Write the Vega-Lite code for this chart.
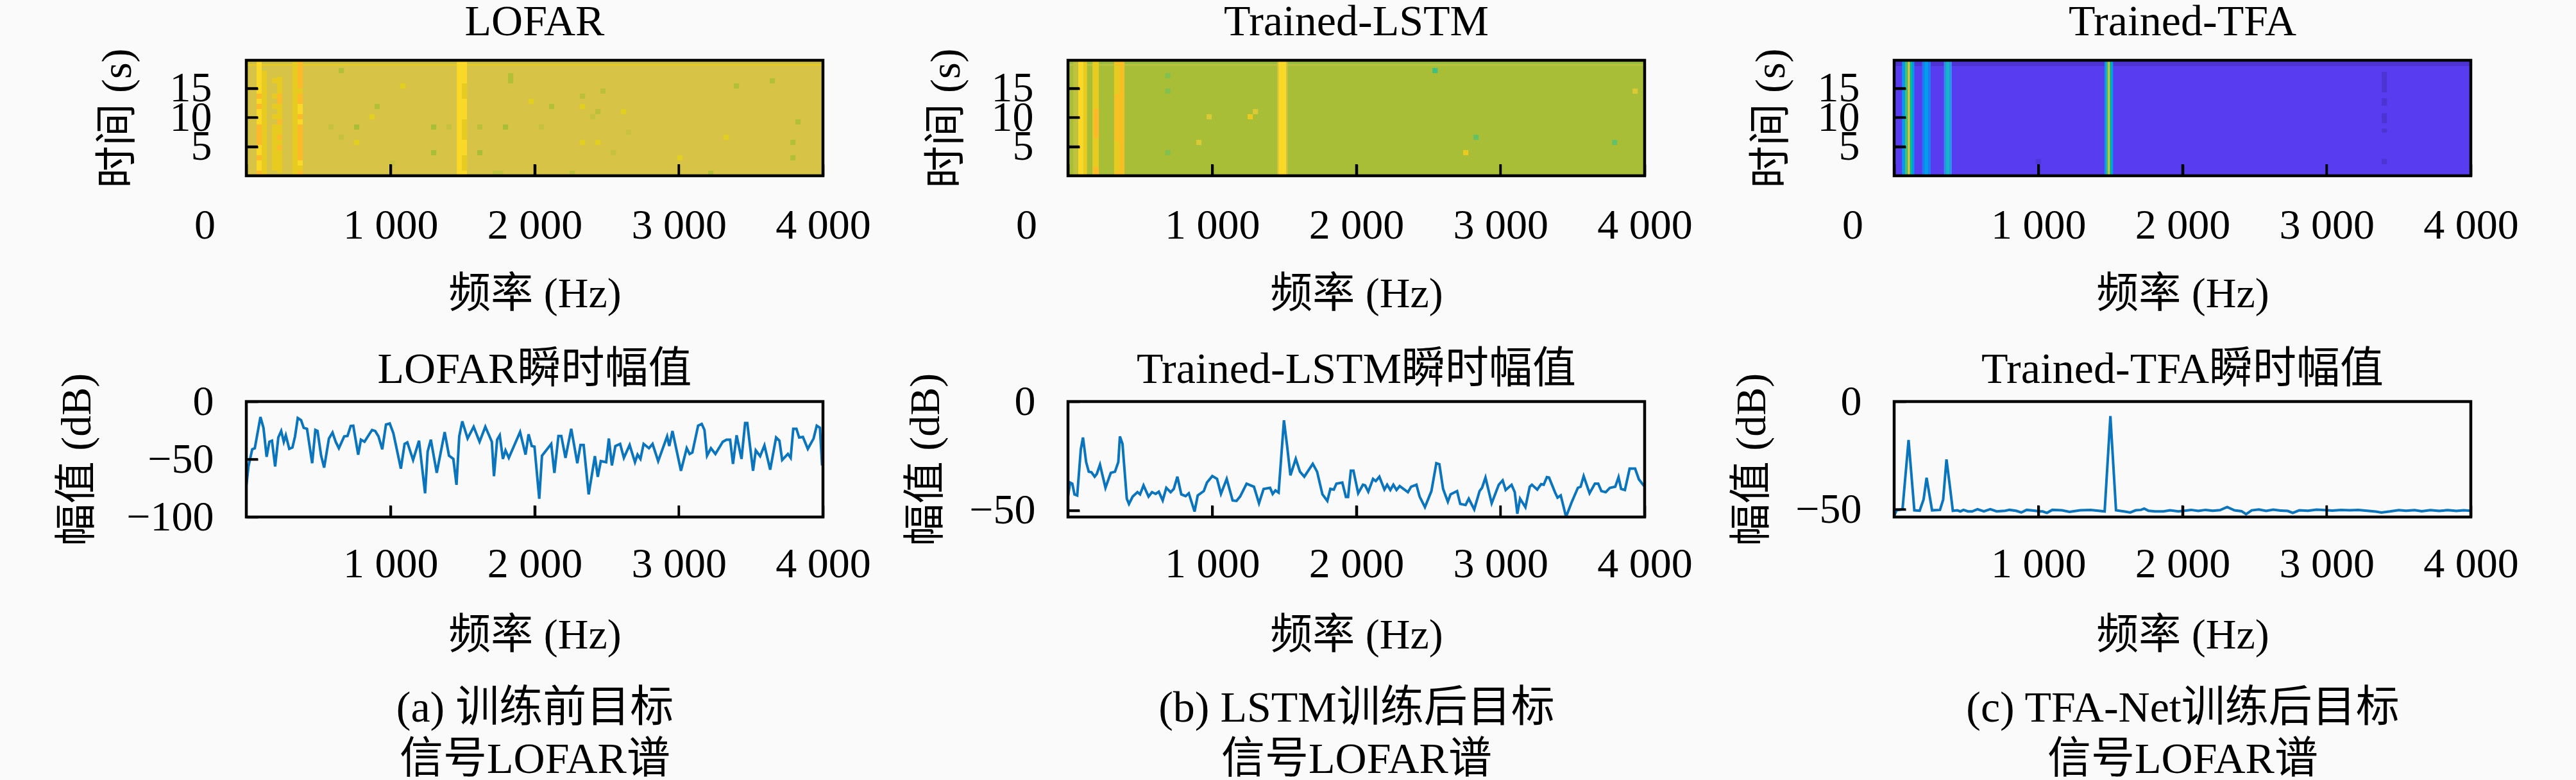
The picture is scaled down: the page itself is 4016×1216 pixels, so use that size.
{
  "$schema": "https://vega.github.io/schema/vega-lite/v6.json",
  "background": "#fafafa",
  "autosize": {"type": "none"},
  "padding": {"left": 384, "top": 94, "right": 3632, "bottom": 1122},
  "config": {
    "view": {"stroke": null},
    "title": {"font": "Liberation Serif, Noto Sans CJK SC", "fontSize": 68, "fontWeight": "normal", "color": "#000000", "baseline": "alphabetic"},
    "axis": {
      "grid": false, "domain": false,
      "labelFont": "Liberation Serif", "labelFontSize": 66, "labelColor": "#000000", "labelOverlap": false, "labelBound": false, "labelFlush": false,
      "titleFont": "Liberation Serif, Noto Sans CJK SC", "titleFontSize": 66, "titleFontWeight": "normal", "titleColor": "#000000",
      "tickColor": "#000000", "tickWidth": 3.5
    }
  },
  "datasets": {
    "cellsA": [
      {"f":0,"f2":4000,"t":0,"t2":19.8,"v":0.8},
      {"f":0,"f2":4000,"t":18.9,"t2":19.15,"v":0.86},
      {"f":0,"f2":4000,"t":19.15,"t2":19.4,"v":0.77},
      {"f":71,"f2":107,"t":0,"t2":19.6,"v":0.97},
      {"f":71,"f2":107,"t":13.2,"t2":14.08,"v":0.9},
      {"f":71,"f2":107,"t":11.44,"t2":12.32,"v":0.9},
      {"f":71,"f2":107,"t":5.28,"t2":8.8,"v":0.9},
      {"f":71,"f2":107,"t":2.64,"t2":3.52,"v":0.9},
      {"f":71,"f2":107,"t":0,"t2":0.88,"v":0.9},
      {"f":107,"f2":142,"t":0,"t2":18,"v":0.85},
      {"f":178,"f2":214,"t":15.84,"t2":16.72,"v":0.85},
      {"f":178,"f2":214,"t":13.2,"t2":14.08,"v":0.85},
      {"f":178,"f2":214,"t":11.44,"t2":12.32,"v":0.85},
      {"f":178,"f2":214,"t":9.68,"t2":10.56,"v":0.85},
      {"f":178,"f2":214,"t":0.88,"t2":8.8,"v":0.85},
      {"f":214,"f2":249,"t":0.5,"t2":17,"v":0.85},
      {"f":214,"f2":249,"t":12.32,"t2":14.08,"v":0.9},
      {"f":214,"f2":249,"t":8.8,"t2":9.68,"v":0.9},
      {"f":214,"f2":249,"t":6.16,"t2":7.04,"v":0.9},
      {"f":214,"f2":249,"t":4.4,"t2":5.28,"v":0.9},
      {"f":320,"f2":356,"t":0,"t2":19.6,"v":0.85},
      {"f":356,"f2":392,"t":0,"t2":19.6,"v":0.9},
      {"f":356,"f2":392,"t":10.56,"t2":12.32,"v":0.97},
      {"f":356,"f2":392,"t":8.8,"t2":9.68,"v":0.97},
      {"f":356,"f2":392,"t":1.76,"t2":2.64,"v":0.97},
      {"f":356,"f2":392,"t":14.08,"t2":14.96,"v":0.85},
      {"f":356,"f2":392,"t":0.88,"t2":1.76,"v":0.85},
      {"f":1460,"f2":1495,"t":0,"t2":19.6,"v":0.97},
      {"f":1495,"f2":1531,"t":0,"t2":19.6,"v":0.97},
      {"f":1495,"f2":1531,"t":13.2,"t2":15.84,"v":0.85},
      {"f":1495,"f2":1531,"t":6.16,"t2":9.68,"v":0.85},
      {"f":1495,"f2":1531,"t":0.88,"t2":3.52,"v":0.85},
      {"f":641,"f2":677,"t":17.6,"t2":18.48,"v":0.72},
      {"f":1816,"f2":1852,"t":15.84,"t2":17.6,"v":0.72},
      {"f":1068,"f2":1104,"t":14.96,"t2":15.84,"v":0.84},
      {"f":3382,"f2":3418,"t":14.96,"t2":15.84,"v":0.72},
      {"f":3631,"f2":3667,"t":15.84,"t2":16.72,"v":0.72},
      {"f":2456,"f2":2492,"t":14.08,"t2":14.96,"v":0.74},
      {"f":2314,"f2":2350,"t":13.2,"t2":14.08,"v":0.74},
      {"f":1958,"f2":1994,"t":12.32,"t2":13.2,"v":0.84},
      {"f":890,"f2":926,"t":11.44,"t2":12.32,"v":0.72},
      {"f":2100,"f2":2136,"t":11.44,"t2":12.32,"v":0.72},
      {"f":2314,"f2":2350,"t":11.44,"t2":12.32,"v":0.84},
      {"f":2421,"f2":2457,"t":10.56,"t2":11.44,"v":0.74},
      {"f":2599,"f2":2635,"t":10.56,"t2":11.44,"v":0.84},
      {"f":854,"f2":890,"t":9.68,"t2":10.56,"v":0.84},
      {"f":2385,"f2":2421,"t":9.68,"t2":10.56,"v":0.76},
      {"f":3809,"f2":3845,"t":8.8,"t2":9.68,"v":0.72},
      {"f":570,"f2":606,"t":7.92,"t2":8.8,"v":0.76},
      {"f":748,"f2":784,"t":7.92,"t2":8.8,"v":0.7},
      {"f":1282,"f2":1318,"t":7.92,"t2":8.8,"v":0.7},
      {"f":1388,"f2":1424,"t":7.92,"t2":8.8,"v":0.76},
      {"f":1602,"f2":1638,"t":7.92,"t2":8.8,"v":0.74},
      {"f":1780,"f2":1816,"t":7.92,"t2":8.8,"v":0.7},
      {"f":2029,"f2":2065,"t":7.92,"t2":8.8,"v":0.76},
      {"f":2634,"f2":2670,"t":7.04,"t2":7.92,"v":0.77},
      {"f":641,"f2":677,"t":6.16,"t2":7.04,"v":0.76},
      {"f":3311,"f2":3347,"t":6.16,"t2":7.04,"v":0.84},
      {"f":748,"f2":784,"t":5.28,"t2":6.16,"v":0.84},
      {"f":2314,"f2":2350,"t":5.28,"t2":6.16,"v":0.84},
      {"f":2421,"f2":2457,"t":5.28,"t2":6.16,"v":0.84},
      {"f":3774,"f2":3810,"t":5.28,"t2":6.16,"v":0.72},
      {"f":1282,"f2":1318,"t":3.52,"t2":4.4,"v":0.7},
      {"f":1602,"f2":1638,"t":3.52,"t2":4.4,"v":0.7},
      {"f":2528,"f2":2564,"t":3.52,"t2":4.4,"v":0.76},
      {"f":997,"f2":1033,"t":1.76,"t2":2.64,"v":0.77},
      {"f":2990,"f2":3026,"t":2.64,"t2":3.52,"v":0.84},
      {"f":3774,"f2":3810,"t":2.64,"t2":3.52,"v":0.72},
      {"f":1709,"f2":1781,"t":0,"t2":0.88,"v":0.75},
      {"f":2243,"f2":2279,"t":0,"t2":0.88,"v":0.74},
      {"f":3204,"f2":3240,"t":0,"t2":0.88,"v":0.72}
    ],
    "cellsB": [
      {"f":0,"f2":4000,"t":0,"t2":19.8,"v":0.7},
      {"f":0,"f2":4000,"t":18.9,"t2":19.15,"v":0.75},
      {"f":0,"f2":4000,"t":19.15,"t2":19.4,"v":0.67},
      {"f":36,"f2":71,"t":0,"t2":19.6,"v":0.75},
      {"f":71,"f2":107,"t":0,"t2":19.6,"v":0.97},
      {"f":107,"f2":132,"t":0,"t2":19.6,"v":0.85},
      {"f":170,"f2":214,"t":0,"t2":19.6,"v":0.85},
      {"f":178,"f2":214,"t":6.5,"t2":11.5,"v":0.9},
      {"f":178,"f2":214,"t":0,"t2":1.5,"v":0.9},
      {"f":320,"f2":392,"t":0,"t2":19.6,"v":0.88},
      {"f":320,"f2":356,"t":0.8,"t2":6,"v":0.85},
      {"f":320,"f2":356,"t":14,"t2":19,"v":0.85},
      {"f":1450,"f2":1460,"t":0,"t2":19.6,"v":0.78},
      {"f":1460,"f2":1515,"t":0,"t2":19.6,"v":0.97},
      {"f":1515,"f2":1525,"t":0,"t2":19.6,"v":0.78},
      {"f":676,"f2":712,"t":16.72,"t2":17.6,"v":0.64},
      {"f":676,"f2":712,"t":14.08,"t2":14.96,"v":0.64},
      {"f":676,"f2":712,"t":3.52,"t2":4.4,"v":0.64},
      {"f":2528,"f2":2564,"t":17.6,"t2":18.48,"v":0.55},
      {"f":3916,"f2":3952,"t":14.08,"t2":14.96,"v":0.82},
      {"f":961,"f2":997,"t":9.68,"t2":10.56,"v":0.82},
      {"f":1246,"f2":1282,"t":9.68,"t2":10.56,"v":0.86},
      {"f":1282,"f2":1318,"t":10.56,"t2":11.44,"v":0.82},
      {"f":890,"f2":926,"t":5.28,"t2":6.16,"v":0.82},
      {"f":2812,"f2":2848,"t":6.16,"t2":7.04,"v":0.6},
      {"f":3774,"f2":3810,"t":5.28,"t2":6.16,"v":0.6},
      {"f":2741,"f2":2777,"t":3.52,"t2":4.4,"v":0.86}
    ],
    "cellsC": [
      {"f":0,"f2":4000,"t":0,"t2":19.8,"v":0.1},
      {"f":0,"f2":4000,"t":18.8,"t2":19.5,"v":0.06},
      {"f":55,"f2":75,"t":0,"t2":19.6,"v":0.3},
      {"f":75,"f2":95,"t":0,"t2":19.6,"v":0.55},
      {"f":95,"f2":110,"t":0,"t2":19.6,"v":0.84},
      {"f":110,"f2":125,"t":0,"t2":19.6,"v":0.5},
      {"f":125,"f2":140,"t":0,"t2":19.6,"v":0.28},
      {"f":194,"f2":210,"t":0,"t2":19.6,"v":0.2},
      {"f":210,"f2":238,"t":0,"t2":19.6,"v":0.3},
      {"f":238,"f2":254,"t":0,"t2":19.6,"v":0.2},
      {"f":345,"f2":358,"t":0,"t2":19.6,"v":0.25},
      {"f":358,"f2":386,"t":0,"t2":19.6,"v":0.4},
      {"f":386,"f2":400,"t":0,"t2":19.6,"v":0.25},
      {"f":1459,"f2":1472,"t":0,"t2":19.6,"v":0.3},
      {"f":1472,"f2":1484,"t":0,"t2":19.6,"v":0.55},
      {"f":1484,"f2":1496,"t":0,"t2":19.6,"v":0.84},
      {"f":1496,"f2":1508,"t":0,"t2":19.6,"v":0.5},
      {"f":1508,"f2":1519,"t":0,"t2":19.6,"v":0.28},
      {"f":3382,"f2":3418,"t":14.3,"t2":17.8,"v":0.06},
      {"f":3382,"f2":3418,"t":12,"t2":13.3,"v":0.06},
      {"f":3382,"f2":3418,"t":9,"t2":10.7,"v":0.06},
      {"f":3382,"f2":3418,"t":7.4,"t2":8.1,"v":0.06},
      {"f":3382,"f2":3418,"t":2,"t2":2.9,"v":0.06},
      {"f":982,"f2":1018,"t":2,"t2":2.9,"v":0.07}
    ],
    "lineA": [
      {"f":0,"db":-73},{"f":15,"db":-56.2},{"f":41,"db":-41.3},{"f":59,"db":-40.4},{"f":98,"db":-13.4},{"f":119,"db":-22.7},{"f":141,"db":-47.9},{"f":160,"db":-34.8},{"f":178,"db":-33.9},{"f":200,"db":-56.2},{"f":222,"db":-31.1},{"f":242,"db":-25.5},{"f":260,"db":-34.8},{"f":274,"db":-29.2},{"f":298,"db":-41},{"f":320,"db":-39.8},{"f":338,"db":-30.2},{"f":357,"db":-14.3},{"f":380,"db":-16.2},{"f":398,"db":-22.7},{"f":421,"db":-23.6},{"f":457,"db":-53.4},{"f":479,"db":-24.6},{"f":494,"db":-25.5},{"f":519,"db":-46.9},{"f":540,"db":-57.2},{"f":573,"db":-32},{"f":598,"db":-26.8},{"f":620,"db":-34.8},{"f":642,"db":-40.4},{"f":679,"db":-30.2},{"f":702,"db":-29.8},{"f":724,"db":-21.2},{"f":742,"db":-20.9},{"f":776,"db":-46},{"f":795,"db":-33},{"f":820,"db":-34.8},{"f":872,"db":-24.6},{"f":894,"db":-25.5},{"f":917,"db":-30.2},{"f":943,"db":-41.3},{"f":969,"db":-19.9},{"f":995,"db":-19},{"f":1020,"db":-27.4},{"f":1050,"db":-45},{"f":1072,"db":-58.1},{"f":1098,"db":-36.7},{"f":1117,"db":-35.4},{"f":1157,"db":-50.6},{"f":1198,"db":-33.9},{"f":1240,"db":-79.5},{"f":1258,"db":-43.2},{"f":1280,"db":-33},{"f":1321,"db":-61.8},{"f":1376,"db":-26.4},{"f":1406,"db":-46.9},{"f":1436,"db":-49.7},{"f":1458,"db":-72.1},{"f":1477,"db":-30.2},{"f":1498,"db":-17.1},{"f":1535,"db":-32},{"f":1577,"db":-21.8},{"f":1618,"db":-34.8},{"f":1658,"db":-21.8},{"f":1703,"db":-34.8},{"f":1718,"db":-64.6},{"f":1740,"db":-33},{"f":1758,"db":-29.2},{"f":1780,"db":-49.7},{"f":1798,"db":-42.3},{"f":1821,"db":-48.8},{"f":1899,"db":-26.4},{"f":1937,"db":-46},{"f":1958,"db":-28.3},{"f":1980,"db":-38.5},{"f":1999,"db":-39.1},{"f":2032,"db":-84.2},{"f":2051,"db":-46.9},{"f":2115,"db":-36.7},{"f":2137,"db":-61.8},{"f":2165,"db":-29.8},{"f":2185,"db":-29.8},{"f":2214,"db":-48.8},{"f":2254,"db":-23.6},{"f":2296,"db":-53.4},{"f":2318,"db":-37.6},{"f":2340,"db":-37.6},{"f":2375,"db":-80.4},{"f":2418,"db":-47.3},{"f":2438,"db":-65.2},{"f":2459,"db":-51.6},{"f":2496,"db":-52.5},{"f":2515,"db":-32},{"f":2536,"db":-55.3},{"f":2560,"db":-38.5},{"f":2593,"db":-36.7},{"f":2619,"db":-48.8},{"f":2659,"db":-37.6},{"f":2696,"db":-52.5},{"f":2714,"db":-46},{"f":2734,"db":-49.7},{"f":2756,"db":-36.7},{"f":2793,"db":-40.4},{"f":2818,"db":-36.7},{"f":2857,"db":-51.6},{"f":2919,"db":-30.2},{"f":2934,"db":-38.5},{"f":2956,"db":-25.5},{"f":3015,"db":-60},{"f":3055,"db":-40.4},{"f":3075,"db":-45.4},{"f":3094,"db":-44.1},{"f":3134,"db":-20.9},{"f":3159,"db":-19.4},{"f":3178,"db":-24.6},{"f":3196,"db":-46.9},{"f":3223,"db":-40.4},{"f":3254,"db":-45.4},{"f":3305,"db":-34.8},{"f":3331,"db":-33},{"f":3356,"db":-33},{"f":3376,"db":-54},{"f":3401,"db":-29.2},{"f":3435,"db":-49.7},{"f":3460,"db":-18.6},{"f":3475,"db":-18.6},{"f":3515,"db":-60},{"f":3534,"db":-42.3},{"f":3564,"db":-47.3},{"f":3594,"db":-38},{"f":3634,"db":-59},{"f":3675,"db":-31.1},{"f":3698,"db":-33.9},{"f":3717,"db":-50.6},{"f":3757,"db":-45.4},{"f":3776,"db":-48.8},{"f":3794,"db":-23.6},{"f":3816,"db":-23.6},{"f":3835,"db":-31.1},{"f":3861,"db":-30.7},{"f":3895,"db":-41},{"f":3935,"db":-32},{"f":3957,"db":-20.9},{"f":3979,"db":-22.7},{"f":3994,"db":-55.3}
    ],
    "lineB": [
      {"f":0,"db":-43.6},{"f":15,"db":-37.2},{"f":30,"db":-37.7},{"f":45,"db":-42.6},{"f":64,"db":-43.1},{"f":89,"db":-21.9},{"f":104,"db":-16.5},{"f":126,"db":-27.8},{"f":144,"db":-32.2},{"f":163,"db":-32.5},{"f":185,"db":-34.5},{"f":200,"db":-33.2},{"f":222,"db":-29},{"f":260,"db":-39.6},{"f":297,"db":-32.7},{"f":326,"db":-32.2},{"f":349,"db":-27.8},{"f":360,"db":-16},{"f":378,"db":-19.4},{"f":408,"db":-44.6},{"f":423,"db":-47},{"f":449,"db":-43.6},{"f":482,"db":-41.6},{"f":500,"db":-42.6},{"f":524,"db":-38.5},{"f":559,"db":-43.6},{"f":583,"db":-41.6},{"f":608,"db":-42.4},{"f":630,"db":-41.4},{"f":657,"db":-45.4},{"f":682,"db":-39.6},{"f":712,"db":-41.6},{"f":734,"db":-40.1},{"f":759,"db":-34.5},{"f":786,"db":-42.6},{"f":816,"db":-43.4},{"f":838,"db":-42.1},{"f":878,"db":-50.5},{"f":900,"db":-43.1},{"f":942,"db":-41.1},{"f":964,"db":-37.2},{"f":1001,"db":-34.2},{"f":1034,"db":-35.5},{"f":1061,"db":-42.4},{"f":1101,"db":-35.5},{"f":1142,"db":-45.4},{"f":1169,"db":-45.6},{"f":1194,"db":-43.6},{"f":1239,"db":-37.7},{"f":1290,"db":-39.1},{"f":1325,"db":-46.7},{"f":1357,"db":-40.1},{"f":1402,"db":-39.6},{"f":1420,"db":-42.4},{"f":1439,"db":-40.8},{"f":1461,"db":-41.8},{"f":1498,"db":-8.6},{"f":1520,"db":-20.4},{"f":1543,"db":-33.9},{"f":1580,"db":-26.3},{"f":1609,"db":-32.2},{"f":1639,"db":-34.5},{"f":1698,"db":-28.6},{"f":1728,"db":-32.2},{"f":1765,"db":-42.6},{"f":1799,"db":-45.6},{"f":1820,"db":-40.1},{"f":1844,"db":-40.4},{"f":1862,"db":-37.7},{"f":1903,"db":-37.2},{"f":1928,"db":-43.8},{"f":1943,"db":-43.8},{"f":1962,"db":-31.7},{"f":1980,"db":-31.7},{"f":2013,"db":-42.1},{"f":2046,"db":-38.2},{"f":2061,"db":-38.5},{"f":2083,"db":-41.4},{"f":2116,"db":-35.5},{"f":2135,"db":-36.5},{"f":2160,"db":-34.5},{"f":2195,"db":-40.4},{"f":2214,"db":-38.2},{"f":2236,"db":-40.6},{"f":2257,"db":-38.2},{"f":2279,"db":-40.6},{"f":2301,"db":-38.8},{"f":2358,"db":-41.6},{"f":2380,"db":-39.1},{"f":2417,"db":-38.2},{"f":2439,"db":-43.6},{"f":2476,"db":-48.5},{"f":2521,"db":-41.1},{"f":2555,"db":-28.3},{"f":2576,"db":-28.8},{"f":2602,"db":-40.1},{"f":2635,"db":-46},{"f":2654,"db":-42.6},{"f":2699,"db":-41.1},{"f":2721,"db":-47},{"f":2758,"db":-47.5},{"f":2780,"db":-44.6},{"f":2818,"db":-49.5},{"f":2855,"db":-41.1},{"f":2872,"db":-39.6},{"f":2896,"db":-34.9},{"f":2939,"db":-46.7},{"f":2988,"db":-38.2},{"f":3015,"db":-36.2},{"f":3036,"db":-40.6},{"f":3077,"db":-38.2},{"f":3099,"db":-41.6},{"f":3117,"db":-51.5},{"f":3136,"db":-44.6},{"f":3173,"db":-48.5},{"f":3203,"db":-39.1},{"f":3218,"db":-38.2},{"f":3255,"db":-40.4},{"f":3282,"db":-37.9},{"f":3300,"db":-38.2},{"f":3322,"db":-34.7},{"f":3337,"db":-34.9},{"f":3381,"db":-42.1},{"f":3396,"db":-44.1},{"f":3418,"db":-43.1},{"f":3455,"db":-52.9},{"f":3492,"db":-46.5},{"f":3537,"db":-39.6},{"f":3556,"db":-39.1},{"f":3577,"db":-34.2},{"f":3618,"db":-42.1},{"f":3655,"db":-37.7},{"f":3678,"db":-37.7},{"f":3700,"db":-41.1},{"f":3730,"db":-41.6},{"f":3759,"db":-39.6},{"f":3796,"db":-39.1},{"f":3819,"db":-34.7},{"f":3837,"db":-40.1},{"f":3863,"db":-40.6},{"f":3896,"db":-30.8},{"f":3934,"db":-30.8},{"f":3960,"db":-35.7},{"f":3989,"db":-38.2},{"f":4000,"db":-39}
    ],
    "lineC": [
      {"f":0,"db":-53},{"f":17,"db":-50.4},{"f":58,"db":-49.9},{"f":100,"db":-17.8},{"f":140,"db":-50.4},{"f":177,"db":-50.6},{"f":204,"db":-45.4},{"f":225,"db":-35.3},{"f":263,"db":-50.4},{"f":318,"db":-50.2},{"f":340,"db":-45.4},{"f":363,"db":-26.8},{"f":385,"db":-38.4},{"f":407,"db":-50.6},{"f":437,"db":-50.4},{"f":459,"db":-50.9},{"f":481,"db":-50.2},{"f":511,"db":-50.9},{"f":541,"db":-50.9},{"f":578,"db":-49.9},{"f":622,"db":-50.9},{"f":667,"db":-49.9},{"f":711,"db":-50.9},{"f":770,"db":-50.6},{"f":800,"db":-50.2},{"f":845,"db":-50.6},{"f":882,"db":-51.4},{"f":919,"db":-50.2},{"f":978,"db":-50.6},{"f":1008,"db":-50.9},{"f":1030,"db":-50.9},{"f":1060,"db":-51.6},{"f":1097,"db":-50.2},{"f":1164,"db":-50.4},{"f":1216,"db":-51.1},{"f":1290,"db":-50.4},{"f":1364,"db":-50.2},{"f":1460,"db":-50.9},{"f":1500,"db":-6.7},{"f":1539,"db":-50.4},{"f":1594,"db":-50.9},{"f":1638,"db":-51.4},{"f":1675,"db":-50.4},{"f":1712,"db":-50.2},{"f":1735,"db":-49.6},{"f":1764,"db":-50.6},{"f":1809,"db":-50.9},{"f":1868,"db":-50.9},{"f":1913,"db":-50.4},{"f":1972,"db":-50.9},{"f":2013,"db":-50.6},{"f":2060,"db":-50.2},{"f":2110,"db":-50.7},{"f":2160,"db":-50.2},{"f":2210,"db":-50.6},{"f":2260,"db":-50.3},{"f":2310,"db":-48.9},{"f":2360,"db":-50.4},{"f":2410,"db":-50.8},{"f":2441,"db":-52.2},{"f":2480,"db":-50.4},{"f":2530,"db":-50},{"f":2580,"db":-50.7},{"f":2630,"db":-50.1},{"f":2680,"db":-50.5},{"f":2730,"db":-50.7},{"f":2765,"db":-51.6},{"f":2810,"db":-50.4},{"f":2870,"db":-50.6},{"f":2930,"db":-50.1},{"f":2990,"db":-50.3},{"f":3040,"db":-50.5},{"f":3100,"db":-50.2},{"f":3160,"db":-50.4},{"f":3220,"db":-50.2},{"f":3280,"db":-50.6},{"f":3340,"db":-51},{"f":3380,"db":-51.4},{"f":3440,"db":-50.9},{"f":3500,"db":-50.3},{"f":3550,"db":-50.6},{"f":3610,"db":-50.3},{"f":3660,"db":-50.8},{"f":3720,"db":-50.3},{"f":3780,"db":-50.7},{"f":3840,"db":-50.3},{"f":3900,"db":-50.7},{"f":3950,"db":-50.4},{"f":4000,"db":-50.6}
    ],
    "ticksTopX": [{"f":1000,"t":0,"t2":1.98},{"f":2000,"t":0,"t2":1.98},{"f":3000,"t":0,"t2":1.98}],
    "ticksTopY": [{"f":0,"f2":80,"t":5},{"f":0,"f2":80,"t":10},{"f":0,"f2":80,"t":15}],
    "ticksAX": [{"f":1000,"db":-100,"db2":-90},{"f":2000,"db":-100,"db2":-90},{"f":3000,"db":-100,"db2":-90}],
    "ticksBX": [{"f":1000,"db":-53,"db2":-47.7},{"f":2000,"db":-53,"db2":-47.7},{"f":3000,"db":-53,"db2":-47.7}],
    "ticksCX": [{"f":1000,"db":-53.5,"db2":-48.1},{"f":2000,"db":-53.5,"db2":-48.1},{"f":3000,"db":-53.5,"db2":-48.1}],
    "ticksBottomY": [{"f":0,"f2":80,"db":-50}]
  },
  "hconcat": [
    {
      "bounds": "flush",
      "spacing": 1281,
      "hconcat": [
        {
          "bounds": "flush",
          "spacing": 352,
          "title": {"text": ["(a) 训练前目标", "信号LOFAR谱"], "orient": "bottom", "anchor": "start", "align": "center", "frame": "group", "dx": 450, "offset": 48, "lineHeight": 80},
          "vconcat": [
            {
              "width": 899, "height": 180,
              "title": {"text": "LOFAR", "frame": "group", "offset": 6},
              "encoding": {
                "x": {"field": "f", "type": "quantitative", "scale": {"domain": [0, 4000]},
                  "axis": {"zindex": 1, "tickSize": -18, "title": "频率 (Hz)", "titleY": 204, "titleBaseline": "alphabetic", "values": [0, 1000, 2000, 3000, 4000], "labelExpr": "replace(format(datum.value, ','), ',', ' ')", "labelPadding": 63, "labelOffset": {"condition": {"test": "datum.value === 0", "value": -65}, "value": 0}}},
                "y": {"field": "t", "type": "quantitative", "scale": {"domain": [0, 19.8]},
                  "axis": {"zindex": 1, "tickSize": -18, "title": "时间 (s)", "titleX": -201, "titleBaseline": "middle", "values": [5, 10, 15], "labelPadding": 72}}
              },
              "layer": [
                {"data": {"name": "cellsA"}, "mark": {"type": "rect", "clip": true},
                  "encoding": {"x2": {"field": "f2"}, "y2": {"field": "t2"},
                    "color": {"field": "v", "type": "quantitative", "legend": null, "scale": {"domain": [0, 0.1, 0.25, 0.4, 0.55, 0.7, 0.8, 0.84, 0.9, 1], "range": ["#3e26a8", "#583cf0", "#2f8ff0", "#15b5c8", "#40c080", "#a8be37", "#d7c346", "#e3cf20", "#fcb92a", "#f5e62a"]}}}},
                {"data": {"name": "ticksTopX"}, "mark": {"type": "rule", "color": "#000000", "strokeWidth": 3.5}, "encoding": {"y2": {"field": "t2"}}},
                {"data": {"name": "ticksTopY"}, "mark": {"type": "rule", "color": "#000000", "strokeWidth": 3.5}, "encoding": {"x2": {"field": "f2"}}},
                {"data": {"values": [{"f": 0, "f2": 4000, "t": 0, "t2": 19.8}]}, "mark": {"type": "rect", "fill": null, "stroke": "#000000", "strokeWidth": 4.5},
                  "encoding": {"x2": {"field": "f2"}, "y2": {"field": "t2"}}}
              ]
            },
            {
              "width": 899, "height": 180,
              "title": {"text": "LOFAR瞬时幅值", "frame": "group", "offset": -30},
              "encoding": {
                "x": {"field": "f", "type": "quantitative", "scale": {"domain": [0, 4000]},
                  "axis": {"zindex": 1, "tickSize": -18, "title": "频率 (Hz)", "titleY": 204, "titleBaseline": "alphabetic", "values": [1000, 2000, 3000, 4000], "labelExpr": "replace(format(datum.value, ','), ',', ' ')", "labelPadding": 59}},
                "y": {"field": "db", "type": "quantitative", "scale": {"domain": [-100, 0]},
                  "axis": {"zindex": 1, "tickSize": -18, "title": "幅值 (dB)", "titleX": -264, "titleBaseline": "middle", "values": [-100, -50, 0], "labelPadding": 69}}
              },
              "layer": [
                {"data": {"name": "lineA"}, "mark": {"type": "line", "color": "#0a74bd", "strokeWidth": 4, "clip": true}},
                {"data": {"name": "ticksAX"}, "mark": {"type": "rule", "color": "#000000", "strokeWidth": 3.5}, "encoding": {"y2": {"field": "db2"}}},
                {"data": {"name": "ticksBottomY"}, "mark": {"type": "rule", "color": "#000000", "strokeWidth": 3.5}, "encoding": {"x2": {"field": "f2"}}},
                {"data": {"values": [{"f": 0, "f2": 4000, "db": -100, "db2": 0}]}, "mark": {"type": "rect", "fill": null, "stroke": "#000000", "strokeWidth": 4.5},
                  "encoding": {"x2": {"field": "f2"}, "y2": {"field": "db2"}}}
              ]
            }
          ]
        },
        {
          "bounds": "flush",
          "spacing": 352,
          "title": {"text": ["(b) LSTM训练后目标", "信号LOFAR谱"], "orient": "bottom", "anchor": "start", "align": "center", "frame": "group", "dx": 450, "offset": 48, "lineHeight": 80},
          "vconcat": [
            {
              "width": 899, "height": 180,
              "title": {"text": "Trained-LSTM", "frame": "group", "offset": 6},
              "encoding": {
                "x": {"field": "f", "type": "quantitative", "scale": {"domain": [0, 4000]},
                  "axis": {"zindex": 1, "tickSize": -18, "title": "频率 (Hz)", "titleY": 204, "titleBaseline": "alphabetic", "values": [0, 1000, 2000, 3000, 4000], "labelExpr": "replace(format(datum.value, ','), ',', ' ')", "labelPadding": 63, "labelOffset": {"condition": {"test": "datum.value === 0", "value": -65}, "value": 0}}},
                "y": {"field": "t", "type": "quantitative", "scale": {"domain": [0, 19.8]},
                  "axis": {"zindex": 1, "tickSize": -18, "title": "时间 (s)", "titleX": -190, "titleBaseline": "middle", "values": [5, 10, 15], "labelPadding": 72}}
              },
              "layer": [
                {"data": {"name": "cellsB"}, "mark": {"type": "rect", "clip": true},
                  "encoding": {"x2": {"field": "f2"}, "y2": {"field": "t2"},
                    "color": {"field": "v", "type": "quantitative", "legend": null, "scale": {"domain": [0, 0.1, 0.25, 0.4, 0.55, 0.7, 0.8, 0.84, 0.9, 1], "range": ["#3e26a8", "#583cf0", "#2f8ff0", "#15b5c8", "#40c080", "#a8be37", "#d7c346", "#e3cf20", "#fcb92a", "#f5e62a"]}}}},
                {"data": {"name": "ticksTopX"}, "mark": {"type": "rule", "color": "#000000", "strokeWidth": 3.5}, "encoding": {"y2": {"field": "t2"}}},
                {"data": {"name": "ticksTopY"}, "mark": {"type": "rule", "color": "#000000", "strokeWidth": 3.5}, "encoding": {"x2": {"field": "f2"}}},
                {"data": {"values": [{"f": 0, "f2": 4000, "t": 0, "t2": 19.8}]}, "mark": {"type": "rect", "fill": null, "stroke": "#000000", "strokeWidth": 4.5},
                  "encoding": {"x2": {"field": "f2"}, "y2": {"field": "t2"}}}
              ]
            },
            {
              "width": 899, "height": 180,
              "title": {"text": "Trained-LSTM瞬时幅值", "frame": "group", "offset": -30},
              "encoding": {
                "x": {"field": "f", "type": "quantitative", "scale": {"domain": [0, 4000]},
                  "axis": {"zindex": 1, "tickSize": -18, "title": "频率 (Hz)", "titleY": 204, "titleBaseline": "alphabetic", "values": [1000, 2000, 3000, 4000], "labelExpr": "replace(format(datum.value, ','), ',', ' ')", "labelPadding": 59}},
                "y": {"field": "db", "type": "quantitative", "scale": {"domain": [-53, 0]},
                  "axis": {"zindex": 1, "tickSize": -18, "title": "幅值 (dB)", "titleX": -222, "titleBaseline": "middle", "values": [-50, 0], "labelPadding": 69}}
              },
              "layer": [
                {"data": {"name": "lineB"}, "mark": {"type": "line", "color": "#0a74bd", "strokeWidth": 4, "clip": true}},
                {"data": {"name": "ticksBX"}, "mark": {"type": "rule", "color": "#000000", "strokeWidth": 3.5}, "encoding": {"y2": {"field": "db2"}}},
                {"data": {"name": "ticksBottomY"}, "mark": {"type": "rule", "color": "#000000", "strokeWidth": 3.5}, "encoding": {"x2": {"field": "f2"}}},
                {"data": {"values": [{"f": 0, "f2": 4000, "db": -53, "db2": 0}]}, "mark": {"type": "rect", "fill": null, "stroke": "#000000", "strokeWidth": 4.5},
                  "encoding": {"x2": {"field": "f2"}, "y2": {"field": "db2"}}}
              ]
            }
          ]
        }
      ]
    },
    {
      "bounds": "flush",
      "spacing": 352,
      "title": {"text": ["(c) TFA-Net训练后目标", "信号LOFAR谱"], "orient": "bottom", "anchor": "start", "align": "center", "frame": "group", "dx": 450, "offset": 48, "lineHeight": 80},
      "vconcat": [
        {
          "width": 899, "height": 180,
          "title": {"text": "Trained-TFA", "frame": "group", "offset": 6},
          "encoding": {
            "x": {"field": "f", "type": "quantitative", "scale": {"domain": [0, 4000]},
              "axis": {"zindex": 1, "tickSize": -18, "title": "频率 (Hz)", "titleY": 204, "titleBaseline": "alphabetic", "values": [0, 1000, 2000, 3000, 4000], "labelExpr": "replace(format(datum.value, ','), ',', ' ')", "labelPadding": 63, "labelOffset": {"condition": {"test": "datum.value === 0", "value": -65}, "value": 0}}},
            "y": {"field": "t", "type": "quantitative", "scale": {"domain": [0, 19.8]},
              "axis": {"zindex": 1, "tickSize": -18, "title": "时间 (s)", "titleX": -192, "titleBaseline": "middle", "values": [5, 10, 15], "labelPadding": 72}}
          },
          "layer": [
            {"data": {"name": "cellsC"}, "mark": {"type": "rect", "clip": true},
              "encoding": {"x2": {"field": "f2"}, "y2": {"field": "t2"},
                "color": {"field": "v", "type": "quantitative", "legend": null, "scale": {"domain": [0, 0.1, 0.25, 0.4, 0.55, 0.7, 0.8, 0.84, 0.9, 1], "range": ["#3e26a8", "#583cf0", "#2f8ff0", "#15b5c8", "#40c080", "#a8be37", "#d7c346", "#e3cf20", "#fcb92a", "#f5e62a"]}}}},
            {"data": {"name": "ticksTopX"}, "mark": {"type": "rule", "color": "#000000", "strokeWidth": 3.5}, "encoding": {"y2": {"field": "t2"}}},
            {"data": {"name": "ticksTopY"}, "mark": {"type": "rule", "color": "#000000", "strokeWidth": 3.5}, "encoding": {"x2": {"field": "f2"}}},
            {"data": {"values": [{"f": 0, "f2": 4000, "t": 0, "t2": 19.8}]}, "mark": {"type": "rect", "fill": null, "stroke": "#000000", "strokeWidth": 4.5},
              "encoding": {"x2": {"field": "f2"}, "y2": {"field": "t2"}}}
          ]
        },
        {
          "width": 899, "height": 180,
          "title": {"text": "Trained-TFA瞬时幅值", "frame": "group", "offset": -30},
          "encoding": {
            "x": {"field": "f", "type": "quantitative", "scale": {"domain": [0, 4000]},
              "axis": {"zindex": 1, "tickSize": -18, "title": "频率 (Hz)", "titleY": 204, "titleBaseline": "alphabetic", "values": [1000, 2000, 3000, 4000], "labelExpr": "replace(format(datum.value, ','), ',', ' ')", "labelPadding": 59}},
            "y": {"field": "db", "type": "quantitative", "scale": {"domain": [-53.5, 0]},
              "axis": {"zindex": 1, "tickSize": -18, "title": "幅值 (dB)", "titleX": -222, "titleBaseline": "middle", "values": [-50, 0], "labelPadding": 69}}
          },
          "layer": [
            {"data": {"name": "lineC"}, "mark": {"type": "line", "color": "#0a74bd", "strokeWidth": 4, "clip": true}},
            {"data": {"name": "ticksCX"}, "mark": {"type": "rule", "color": "#000000", "strokeWidth": 3.5}, "encoding": {"y2": {"field": "db2"}}},
            {"data": {"name": "ticksBottomY"}, "mark": {"type": "rule", "color": "#000000", "strokeWidth": 3.5}, "encoding": {"x2": {"field": "f2"}}},
            {"data": {"values": [{"f": 0, "f2": 4000, "db": -53.5, "db2": 0}]}, "mark": {"type": "rect", "fill": null, "stroke": "#000000", "strokeWidth": 4.5},
              "encoding": {"x2": {"field": "f2"}, "y2": {"field": "db2"}}}
          ]
        }
      ]
    }
  ],
  "spacing": 2569,
  "bounds": "flush"
}
